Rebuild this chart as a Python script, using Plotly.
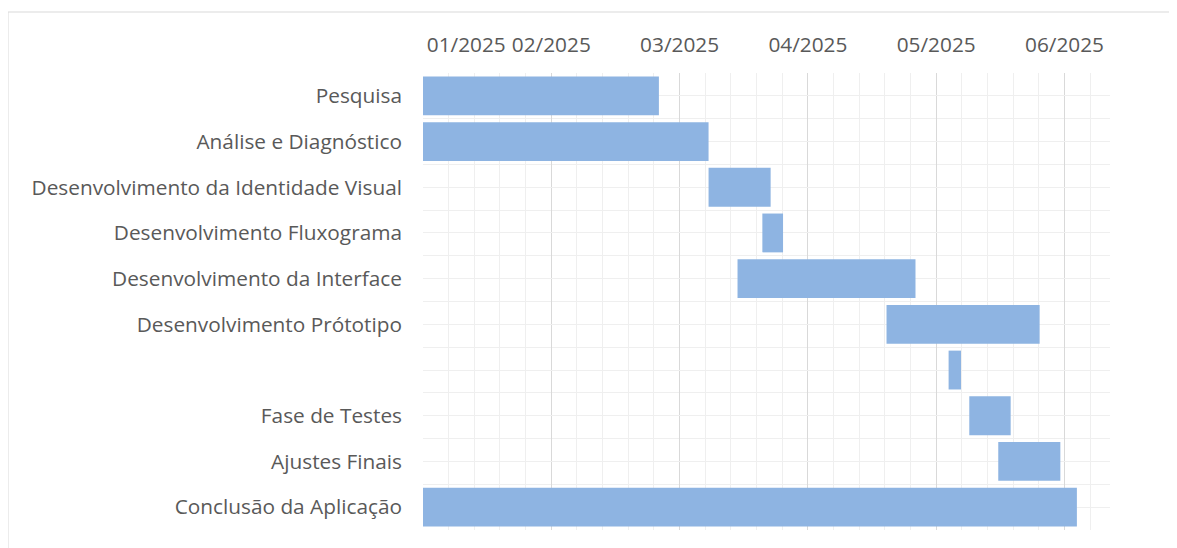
import plotly.graph_objects as go
import pandas as pd

# ---- data ----
tasks = [
    "Pesquisa",
    "Análise e Diagnóstico",
    "Desenvolvimento da Identidade Visual",
    "Desenvolvimento Fluxograma",
    "Desenvolvimento da Interface",
    "Desenvolvimento Prótotipo",
    "",
    "Fase de Testes",
    "Ajustes Finais",
    "Conclusão da Aplicação",
]
start_dates = [
    "2025-01-01", "2025-01-01", "2025-03-11", "2025-03-24", "2025-03-18",
    "2025-04-23", "2025-05-08", "2025-05-13", "2025-05-20", "2025-01-01",
]
end_dates = [
    "2025-02-27", "2025-03-11", "2025-03-26", "2025-03-29", "2025-04-30",
    "2025-05-30", "2025-05-11", "2025-05-23", "2025-06-04", "2025-06-08",
]
tick_dates = ["2025-01-01", "2025-02-01", "2025-03-04", "2025-04-04", "2025-05-05", "2025-06-05"]
tick_labels = ["01/2025", "02/2025", "03/2025", "04/2025", "05/2025", "06/2025"]
axis_range = ["2025-01-01", "2025-06-16"]

# ---- derived ----
starts = pd.to_datetime(start_dates)
ends = pd.to_datetime(end_dates)
durations_ms = [(e - s).total_seconds() * 1000 for s, e in zip(starts, ends)]
ypos = list(range(len(tasks)))

DAY_MS = 86400000
label_font = dict(family="Open Sans", size=20.8, color="#595959")

ticktext = list(tick_labels)
ticktext[0] = "\u00a0" * 16 + ticktext[0]

W, H = 1169, 540
ML, MR, MT, MB = 415, 67, 65, 18
PW, PH = W - ML - MR, H - MT - MB

fig = go.Figure()
fig.add_trace(go.Bar(
    y=ypos,
    x=durations_ms,
    base=[s.strftime("%Y-%m-%d") for s in starts],
    orientation="h",
    marker=dict(color="#8EB4E2", line=dict(width=0)),
    width=0.85,
    hoverinfo="skip",
))

fig.update_layout(
    width=W,
    height=H,
    margin=dict(l=ML, r=MR, t=MT, b=MB),
    paper_bgcolor="white",
    plot_bgcolor="white",
    showlegend=False,
    xaxis=dict(
        type="date",
        side="top",
        range=axis_range,
        tickmode="array",
        tickvals=tick_dates,
        ticktext=ticktext,
        tickfont=label_font,
        ticks="",
        ticklabelstandoff=16,
        showgrid=True,
        gridcolor="#D9D9D9",
        gridwidth=1,
        zeroline=False,
        showline=False,
        minor=dict(
            tickmode="linear",
            tick0="2025-01-01",
            dtick=6.2 * DAY_MS,
            showgrid=True,
            gridcolor="#EFEFEF",
            gridwidth=1,
            ticks="",
        ),
    ),
    yaxis=dict(
        range=[len(tasks) - 0.5, -0.5],
        tickmode="array",
        tickvals=ypos,
        ticktext=tasks,
        tickfont=label_font,
        ticks="",
        ticklabelstandoff=20,
        showgrid=True,
        gridcolor="#EFEFEF",
        gridwidth=1,
        zeroline=False,
        showline=False,
        minor=dict(
            tickmode="linear",
            tick0=0.5,
            dtick=1,
            showgrid=True,
            gridcolor="#EFEFEF",
            gridwidth=1,
            ticks="",
        ),
    ),
    shapes=[
        dict(type="rect", xref="paper", yref="paper",
             x0=(0 - ML) / PW, x1=(W + 10 - ML) / PW,
             y0=(PH + 30) / PH * 0 - 30 / PH, y1=(PH + MT - 4) / PH,
             line=dict(color="#D9D9D9", width=1), fillcolor="rgba(0,0,0,0)",
             layer="below"),
    ],
)

fig.write_html("out.html")
